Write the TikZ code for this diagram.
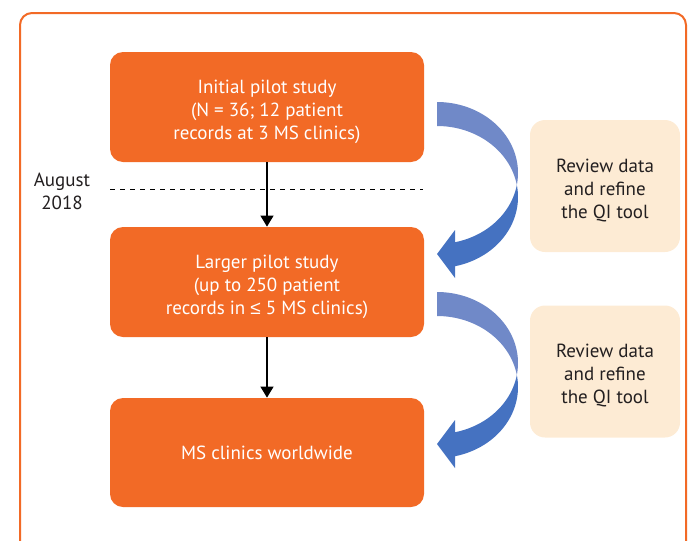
\documentclass[tikz,border=0pt]{standalone}
\usepackage{fontspec}
\setmainfont{PT Sans}
\newfontfamily\lesssym{Liberation Sans}
\usetikzlibrary{arrows.meta}
\definecolor{myorange}{RGB}{242,106,38}
\definecolor{mypeach}{RGB}{253,235,212}
\definecolor{mytext}{RGB}{35,31,32}
\definecolor{bluelight}{RGB}{112,137,200}
\definecolor{bluedark}{RGB}{69,114,193}
\newcommand{\droplines}[1]{\raisebox{-2.4pt}[\height][\depth]{\begin{tabular}{@{}c@{}}#1\end{tabular}}}
\begin{document}
\begin{tikzpicture}[x=0.5pt,y=-0.5pt,
  stage/.style={fill=myorange, rounded corners=6.5pt, minimum width=157pt, minimum height=55pt,
    text=white, align=center, inner sep=0pt, font=\fontsize{9.5}{11.5}\selectfont},
  review/.style={fill=mypeach, rounded corners=7.5pt, minimum width=75pt, minimum height=66pt,
    text=mytext, align=center, inner sep=0pt, font=\fontsize{9.5}{11.5}\selectfont},
  datelabel/.style={text=mytext, align=center, inner sep=0pt, font=\fontsize{9.5}{11.5}\selectfont},
  flow/.style={draw=black, line width=0.65pt, -{Triangle[width=6.5pt,length=5.5pt]}},
  cutline/.style={draw=black, line width=0.5pt, dash pattern=on 2.5pt off 2.5pt},
  frame/.style={draw=myorange, line width=1pt, rounded corners=6pt}]
\useasboundingbox (0,0) rectangle (691,541);
\clip (0,0) rectangle (691,541);
\draw[frame] (20,13) rectangle (686,590);

\node[stage] (s1) at (267,107) {\droplines{Initial pilot study\\(N = 36; 12 patient\\records at 3 MS clinics)}};
\node[stage] (s2) at (267,282) {\droplines{Larger pilot study\\(up to 250 patient\\records in {\lesssym ≤} 5 MS clinics)}};
\node[stage, minimum height=54.5pt] (s3) at (267,452.5) {MS clinics worldwide};

\node[review] (r1) at (605,186) {\droplines{Review data\\and refine\\the QI tool}};
\node[review] (r2) at (605,371.5) {\droplines{Review data\\and refine\\the QI tool}};

\node[datelabel] (aug) at (62,191) {August\\2018};
\coordinate (cutL) at (110,189);
\coordinate (cutR) at (423,189);
\draw[cutline] (cutL) -- (cutR);

\draw[flow] (s1.south) -- (s2.north);
\draw[flow] (s2.south) -- (s3.north);

\foreach \dy in {0,190}{
\begin{scope}[shift={(0,\dy)}]
\fill[bluelight] plot[domain=270:369.73, samples=50] ({437+81*cos(\x)},{173+71*sin(\x)})
  -- plot[domain=350.27:270, samples=50] ({437+81*cos(\x)},{197+71*sin(\x)}) -- cycle;
\fill[bluedark] plot[domain=-9.73:77.16, samples=50] ({437+81*cos(\x)},{197+71*sin(\x)})
  -- (455,278) -- (437,254) -- (455,230)
  -- plot[domain=77.16:9.73, samples=50] ({437+81*cos(\x)},{173+71*sin(\x)}) -- cycle;
\end{scope}
}
\end{tikzpicture}
\end{document}
